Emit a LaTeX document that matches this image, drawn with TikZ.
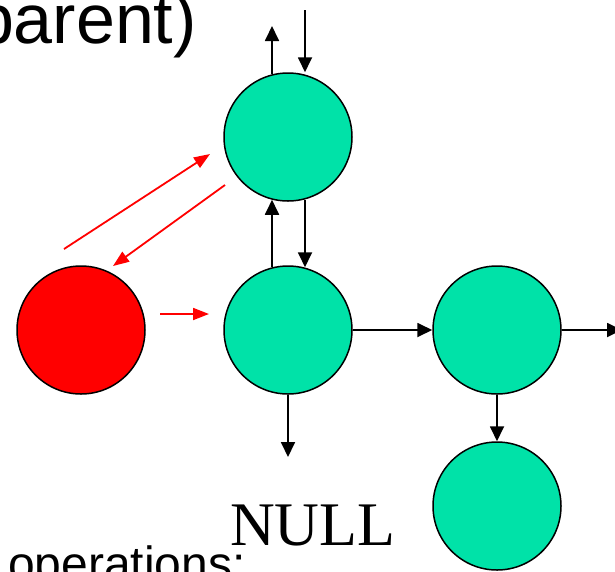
\documentclass[tikz,border=0pt]{standalone}
\usepackage{fontspec}
\setmainfont{Liberation Sans}
\newfontfamily\serifnull{Liberation Serif}
\usetikzlibrary{arrows.meta}
\definecolor{nodeteal}{RGB}{0,226,168}
\definecolor{linkred}{RGB}{255,0,0}
\tikzset{
  tnode/.style={circle, draw=black, line width=1.5pt, fill=nodeteal, minimum size=128pt, inner sep=0pt},
  rnode/.style={circle, draw=black, line width=1.5pt, fill=linkred, minimum size=128pt, inner sep=0pt},
  blk/.style={draw=black, line width=1.8pt, -{Triangle[length=15pt,width=14pt]}},
  redarr/.style={draw=linkred, line width=1.8pt, -{Triangle[length=16pt,width=12pt]}},
  bigsans/.style={font=\fontsize{70}{70}\selectfont},
  opsfont/.style={font=\fontsize{48}{48}\selectfont},
  nullfont/.style={font=\fontsize{62}{62}\selectfont\serifnull}
}
\begin{document}
\begin{tikzpicture}[x=1pt,y=-1pt]
\useasboundingbox (0,0) rectangle (615,571);
\clip (0,0) rectangle (615,571);
% text
\node[bigsans, anchor=base east, inner sep=0pt] (title) at (197,43) {parent)};
\node[opsfont, anchor=base west, inner sep=0pt] (ops) at (8,580) {operations:};
\node[nullfont, anchor=base west, inner sep=0pt] (null) at (230,545) {NULL};
% nodes
\node[tnode] (A) at (288,137) {};
\node[tnode] (B) at (288,330) {};
\node[tnode] (C) at (497,330) {};
\node[tnode] (D) at (497,506) {};
\node[rnode] (R) at (81,330) {};
% free ends
\coordinate (Aup) at (272,26);
\coordinate (Ain) at (305,10);
\coordinate (Cout) at (622,330);
\coordinate (Bdown) at (288,457);
\coordinate (r1s) at (64,249);
\coordinate (r1e) at (210,154);
\coordinate (r2s) at (225,185);
\coordinate (r2e) at (113,266);
\coordinate (r3s) at (160,314);
\coordinate (r3e) at (209,314);
% black connectors
\draw[blk] ([xshift=-16pt,yshift=-2pt]A.north) -- (Aup);
\draw[blk] (Ain) -- ([xshift=17pt]A.north);
\draw[blk] ([xshift=-16pt,yshift=-2pt]B.north) -- ([xshift=-16pt,yshift=2pt]A.south);
\draw[blk] ([xshift=17pt,yshift=2pt]A.south) -- ([xshift=17pt,yshift=-2pt]B.north);
\draw[blk] (B) -- (C);
\draw[blk] (C) -- (Cout);
\draw[blk] (C) -- (D);
\draw[blk] (B) -- (Bdown);
% red connectors
\draw[redarr] (r1s) -- (r1e);
\draw[redarr] (r2s) -- (r2e);
\draw[redarr] (r3s) -- (r3e);
\end{tikzpicture}
\end{document}
